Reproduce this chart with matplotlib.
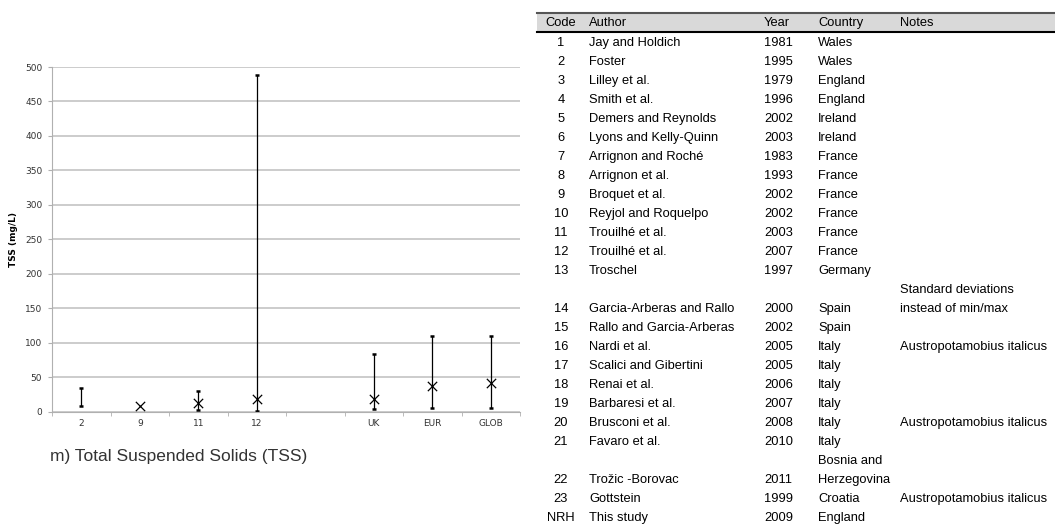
import numpy as np
import matplotlib
matplotlib.use("Agg")
import matplotlib.pyplot as plt
from matplotlib.patches import Rectangle
from matplotlib.lines import Line2D

# chart data
categories = ["2", "9", "11", "12", "", "UK", "EUR", "GLOB"]
tss_mean = [np.nan, 8, 13, 18, np.nan, 19, 38, 41]
tss_min = [8, np.nan, 2.5, 1, np.nan, 3.5, 6, 6]
tss_max = [35, np.nan, 30, 488, np.nan, 84, 110, 110]

# table data
codes = ["1", "2", "3", "4", "5", "6", "7", "8", "9", "10", "11", "12", "13",
         "14", "15", "16", "17", "18", "19", "20", "21", "22", "23", "NRH"]
authors = ["Jay and Holdich", "Foster", "Lilley et al.", "Smith et al.",
           "Demers and Reynolds", "Lyons and Kelly-Quinn", "Arrignon and Roché",
           "Arrignon et al.", "Broquet et al.", "Reyjol and Roquelpo",
           "Trouilhé et al.", "Trouilhé et al.", "Troschel",
           "Garcia-Arberas and Rallo", "Rallo and Garcia-Arberas", "Nardi et al.",
           "Scalici and Gibertini", "Renai et al.", "Barbaresi et al.",
           "Brusconi et al.", "Favaro et al.", "Trožic -Borovac", "Gottstein",
           "This study"]
years = ["1981", "1995", "1979", "1996", "2002", "2003", "1983", "1993", "2002",
         "2002", "2003", "2007", "1997", "2000", "2002", "2005", "2005", "2006",
         "2007", "2008", "2010", "2011", "1999", "2009"]
countries = ["Wales", "Wales", "England", "England", "Ireland", "Ireland",
             "France", "France", "France", "France", "France", "France", "Germany",
             "Spain", "Spain", "Italy", "Italy", "Italy", "Italy", "Italy", "Italy",
             "Bosnia and\nHerzegovina", "Croatia", "England"]
notes = ["", "", "", "", "", "", "", "", "", "", "", "", "",
         "Standard deviations\ninstead of min/max", "", "Austropotamobius italicus",
         "", "", "", "Austropotamobius italicus", "", "", "Austropotamobius italicus", ""]

W, H = 1055, 527
fig = plt.figure(figsize=(W / 100, H / 100), dpi=100)

# ---- chart ----
ax = fig.add_axes([52 / W, 1 - 411.7 / H, 468 / W, 344.7 / H])
x = np.arange(len(categories))
ax.set_xlim(-0.5, len(categories) - 0.5)
ax.set_ylim(0, 500)
ax.set_yticks(np.arange(0, 501, 50))
ax.yaxis.grid(True, color="#c4c4c4", lw=1.2)
ax.set_axisbelow(True)
for s in ["top", "right"]:
    ax.spines[s].set_visible(False)
ax.spines["left"].set_color("#b0b0b0")
ax.spines["bottom"].set_color("#b0b0b0")

ax.set_xticks(x)
ax.set_xticklabels(categories)
ax.set_xticks(np.arange(-0.5, len(categories), 1), minor=True)
ax.tick_params(axis="x", which="major", length=0, pad=5, labelsize=6.5, labelcolor="#333333")
ax.tick_params(axis="x", which="minor", length=3, color="#b0b0b0")
ax.tick_params(axis="y", length=3, color="#b0b0b0", labelsize=6.5, labelcolor="#333333", pad=4)
ax.set_ylabel("TSS (mg/L)", fontsize=6.5, fontweight="bold", labelpad=5)

lo = np.array(tss_min, dtype=float)
hi = np.array(tss_max, dtype=float)
ok = ~np.isnan(lo)
mid = (lo + hi) / 2
ax.errorbar(x[ok], mid[ok], yerr=[mid[ok] - lo[ok], hi[ok] - mid[ok]], fmt="none",
            ecolor="black", elinewidth=0.9, capsize=1.6, capthick=1.8)
m = np.array(tss_mean, dtype=float)
okm = ~np.isnan(m)
ax.scatter(x[okm], m[okm], marker="x", s=45, color="black", linewidths=0.9, zorder=3)

fig.text(50 / W, 1 - 457 / H, "m) Total Suspended Solids (TSS)", fontsize=12.5,
         color="#333333", va="center", ha="left", family="Liberation Sans")

# ---- table ----
def fy(py):
    return 1 - py / H

tab_left = 537
fig.patches.append(Rectangle((tab_left / W, fy(32)), (W - tab_left) / W, 19 / H,
                             transform=fig.transFigure, facecolor="#d9d9d9",
                             edgecolor="none"))
fig.lines.append(Line2D([tab_left / W, 1], [fy(13), fy(13)], transform=fig.transFigure,
                        color="#555555", lw=1.5))
fig.lines.append(Line2D([tab_left / W, 1], [fy(32), fy(32)], transform=fig.transFigure,
                        color="black", lw=1.5))

tfont = dict(fontsize=9.3, family="Liberation Sans", color="black", va="center")
col_x = [561, 589, 764, 818, 900]
headers = ["Code", "Author", "Year", "Country", "Notes"]
for i, h in enumerate(headers):
    fig.text(col_x[i] / W, fy(23), h, ha="center" if i == 0 else "left", **tfont)

unit = 19.0
yrow = 43.0
for r in range(len(codes)):
    cells = [codes[r], authors[r], years[r], countries[r], notes[r]]
    nl = max(c.count("\n") + 1 for c in cells)
    ybot = yrow + (nl - 1) * unit
    for i, c in enumerate(cells):
        lines = c.split("\n")
        for k, line in enumerate(lines):
            yy = ybot - (len(lines) - 1 - k) * unit
            fig.text(col_x[i] / W, fy(yy), line, ha="center" if i == 0 else "left", **tfont)
    yrow = ybot + unit

fig.savefig("out.png", dpi=100)
